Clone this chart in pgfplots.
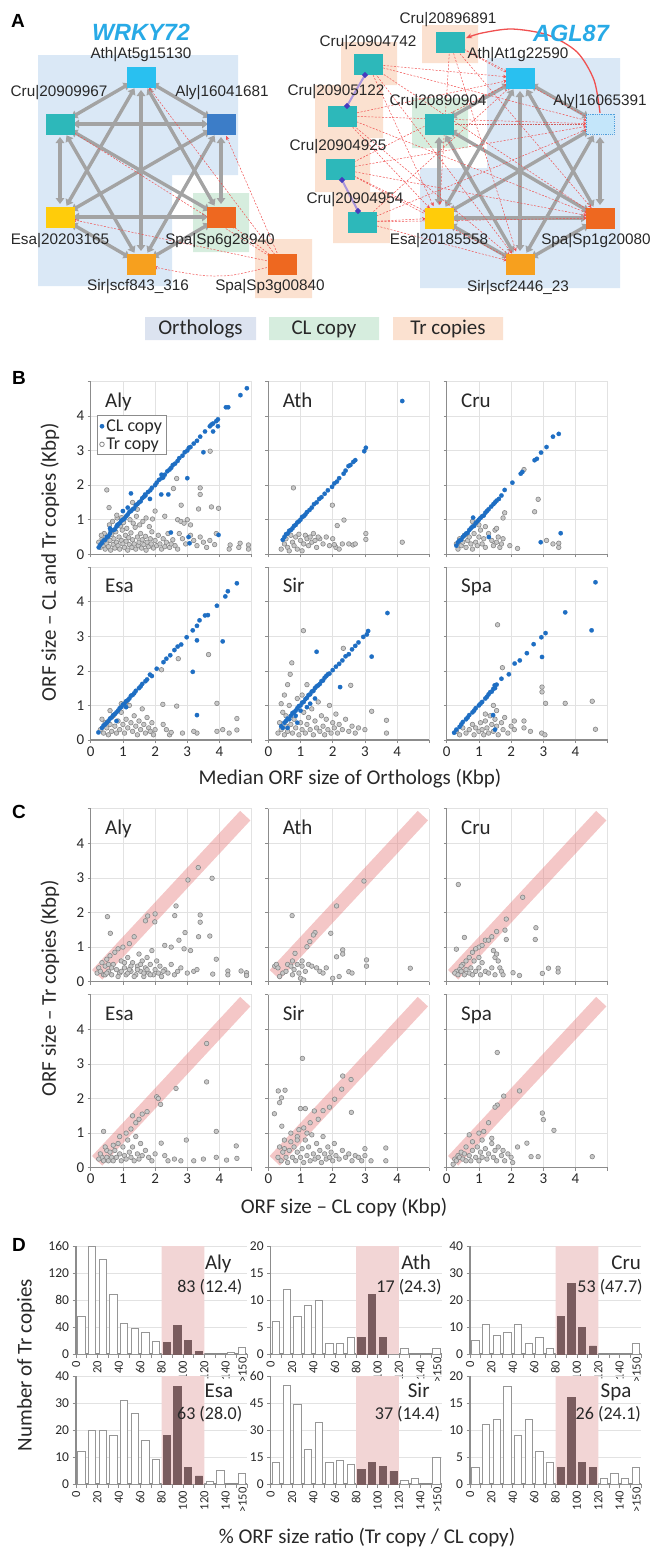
\documentclass[border=0pt]{standalone}
\usepackage{fontspec}
\setmainfont{Carlito}
\newfontfamily\arial{Liberation Sans}
\usepackage{pgfplots}
\pgfplotsset{compat=1.18}
\usetikzlibrary{arrows.meta}

\definecolor{bgblue}{RGB}{218,232,246}
\definecolor{bggreen}{RGB}{214,237,222}
\definecolor{bgpeach}{RGB}{251,225,208}
\definecolor{legblue}{RGB}{220,227,240}
\definecolor{nsky}{RGB}{41,192,240}
\definecolor{nteal}{RGB}{45,184,186}
\definecolor{nblue}{RGB}{60,125,200}
\definecolor{nyellow}{RGB}{255,204,10}
\definecolor{norange}{RGB}{247,160,30}
\definecolor{nred}{RGB}{238,104,32}
\definecolor{nlight}{RGB}{196,230,250}
\definecolor{nlightb}{RGB}{80,160,220}
\definecolor{edgegray}{RGB}{163,163,163}
\definecolor{redarr}{RGB}{240,80,80}
\definecolor{purp}{RGB}{170,150,220}
\definecolor{purpd}{RGB}{70,60,190}
\definecolor{titleblue}{RGB}{40,170,230}
\definecolor{ptblue}{RGB}{30,110,195}
\definecolor{ptgray}{RGB}{135,135,135}
\definecolor{ptfill}{RGB}{200,200,200}
\definecolor{bandpink}{RGB}{230,130,130}
\definecolor{histpink}{RGB}{242,213,213}
\definecolor{histdark}{RGB}{122,92,94}
\definecolor{barline}{RGB}{150,150,150}
\definecolor{axgray}{RGB}{140,140,140}
\definecolor{gridgray}{RGB}{226,226,226}
\definecolor{txt}{RGB}{40,40,40}

% network helpers (panel A axis is 1 unit = 1pt, y downwards)
\newcommand{\bgrect}[5]{\addplot[fill=#5, draw=none] coordinates {(#1,#2) (#3,#2) (#3,#4) (#1,#4) (#1,#2)};}
\newcommand{\gE}[4]{\addplot[gedge] coordinates {(#1,#2) (#3,#4)};}
\newcommand{\rE}[4]{\addplot[redge] coordinates {(#1,#2) (#3,#4)};}
\newcommand{\nd}[3]{\addplot[only marks, mark=square*, mark size=10pt, mark options={xscale=1.4, fill=#3, draw=#3}] coordinates {(#1,#2)};}
\newcommand{\lab}[3]{\node[font=\arial\fontsize{15.3}{15.3}\selectfont, text=txt] at (axis cs:#1,#2) {#3};}

\pgfplotsset{
  gedge/.style={no markers, draw=edgegray, line width=3.4pt,
    arrows={Triangle[length=6pt,width=8.5pt]-Triangle[length=6pt,width=8.5pt]},
    shorten <=13pt, shorten >=13pt},
  redge/.style={no markers, draw=redarr, line width=0.5pt, dash pattern=on 2pt off 1.5pt,
    arrows={-Stealth[length=4pt,width=3.5pt]}, shorten <=12pt, shorten >=13pt},
  scat/.style={scale only axis, width=161pt, height=173pt,
    xmin=0, xmax=5, ymin=0, ymax=5,
    axis lines=left, axis line style={-, draw=axgray, line width=1.3pt},
    xtick={0,...,5}, ytick={0,...,5},
    xticklabels={,,,,,}, yticklabels={,,,,,},
    grid=major, grid style={draw=gridgray, line width=0.5pt},
    tick align=outside, major tick length=3pt,
    tick style={draw=axgray, line width=0.6pt},
    ticklabel style={font=\fontsize{15}{15}\selectfont, text=txt},
    /pgf/number format/assume math mode=true},
  tr/.style={only marks, mark=*, mark size=2.3pt, color=ptgray,
    mark options={draw=ptgray, fill=ptfill, line width=0.6pt},
    legend image code/.code={\draw[mark repeat=2,mark phase=2,##1, mark options={fill=white}] plot coordinates {(0pt,0pt) (4pt,0pt) (8pt,0pt)};}},
  cl/.style={only marks, mark=*, mark size=2.2pt, color=ptblue,
    mark options={fill=ptblue, draw=ptblue, line width=0.2pt},
    legend image code/.code={\draw[mark repeat=2,mark phase=2,##1] plot coordinates {(0pt,0pt) (4pt,0pt) (8pt,0pt)};}},
  cband/.style={no markers, draw=bandpink, line width=14pt, opacity=0.45},
  hist/.style={scale only axis, width=171pt, height=108pt,
    xmin=0, xmax=160, ymin=0,
    axis lines=left, axis line style={-, draw=axgray, line width=1.3pt},
    xtick={0,10,...,160}, xticklabels={0,,20,,40,,60,,80,,100,,120,,140,,},
    extra x ticks={156}, extra x tick labels={>150},
    extra x tick style={major tick length=0pt},
    xticklabel style={rotate=90, anchor=east, font=\fontsize{12.5}{12.5}\selectfont, text=txt},
    yticklabel style={font=\fontsize{13.5}{13.5}\selectfont, text=txt},
    ymajorgrids, grid style={draw=gridgray, line width=0.5pt},
    tick align=outside, major tick length=3.5pt,
    tick style={draw=axgray, line width=0.6pt},
    /pgf/number format/assume math mode=true},
  band/.style={fill=histpink, draw=none},
  wbar/.style={ybar, bar width=7.3pt, bar shift=0pt, fill=white, draw=barline, line width=0.8pt},
  dbar/.style={ybar, bar width=7.3pt, bar shift=0pt, fill=histdark, draw=histdark, line width=0.8pt},
}
\tikzset{
  ttl/.style={anchor=base west, font=\fontsize{21}{21}\selectfont, text=txt},
  htl/.style={anchor=base east, font=\fontsize{21}{21}\selectfont, text=txt},
  hnum/.style={anchor=base east, font=\fontsize{18}{18}\selectfont, text=txt},
  axlab/.style={font=\fontsize{21}{21}\selectfont, text=txt},
  plet/.style={font=\arial\bfseries\fontsize{19}{19}\selectfont, text=black},
}

\begin{document}
\begin{tikzpicture}
\useasboundingbox (0pt,0pt) rectangle (651pt,-1547pt);

% ---------------- panel A : networks ----------------
\begin{axis}[at={(0pt,0pt)}, anchor=north west, scale only axis,
  width=651pt, height=345pt, xmin=0, xmax=651, ymin=0, ymax=345,
  y dir=reverse, hide axis, clip=false]
% backgrounds, WRKY72
\addplot[fill=bgblue, draw=none] coordinates {(38,55) (238,55) (238,175) (172,175) (172,286) (38,286) (38,55)};
\bgrect{193}{193}{249}{252}{bggreen}
\bgrect{255}{239}{312}{298}{bgpeach}
% backgrounds, AGL87
\addplot[fill=bgblue, draw=none] coordinates {(487,58) (620,58) (620,288) (420,288) (420,168) (487,168) (487,58)};
\bgrect{412}{98}{468}{148}{bggreen}
\bgrect{422}{25}{478}{63}{bgpeach}
\bgrect{341}{42}{397}{85}{bgpeach}
\bgrect{315}{85}{383}{138}{bgpeach}
\bgrect{315}{138}{370}{192}{bgpeach}
\bgrect{333}{192}{390}{243}{bgpeach}
% legend boxes
\bgrect{145}{317}{256}{340}{legblue}
\bgrect{269}{317}{379}{340}{bggreen}
\bgrect{393}{317}{503}{340}{bgpeach}
\node[font=\fontsize{21}{21}\selectfont, text=txt] at (axis cs:200.5,329) {Orthologs};
\node[font=\fontsize{21}{21}\selectfont, text=txt] at (axis cs:324,329) {CL copy};
\node[font=\fontsize{21}{21}\selectfont, text=txt] at (axis cs:448,329) {Tr copies};

% WRKY72 edges
\gE{141}{77}{60}{124}
\gE{141}{77}{221}{124}
\gE{141}{77}{60}{217}
\gE{141}{77}{221}{217}
\gE{141}{77}{141}{264}
\gE{60}{124}{221}{124}
\gE{60}{124}{60}{217}
\gE{60}{124}{221}{217}
\gE{60}{124}{141}{264}
\gE{221}{124}{60}{217}
\gE{221}{124}{221}{217}
\gE{221}{124}{141}{264}
\gE{60}{217}{221}{217}
\gE{60}{217}{141}{264}
\gE{221}{217}{141}{264}
\rE{282}{264}{141}{77}
\rE{282}{264}{60}{124}
\rE{282}{264}{221}{124}
\rE{282}{264}{60}{217}
\rE{282}{264}{221}{217}
\addplot[redge, smooth] coordinates {(282,264) (212,276) (141,264)};

% AGL87 edges
\gE{439}{124}{520}{78}
\gE{439}{124}{439}{218}
\gE{439}{124}{600}{218}
\gE{439}{124}{520}{264}
\gE{520}{78}{600}{124}
\gE{520}{78}{439}{218}
\gE{520}{78}{600}{218}
\gE{520}{78}{520}{264}
\gE{600}{124}{439}{218}
\gE{600}{124}{600}{218}
\gE{600}{124}{520}{264}
\gE{439}{218}{600}{218}
\gE{439}{218}{520}{264}
\gE{600}{218}{520}{264}
\addplot[no markers, draw=redarr!70!gray, line width=0.6pt, densely dotted, shorten <=14pt, shorten >=14pt] coordinates {(439,124) (600,124)};
% Tr copies -> orthologs
\rE{450}{42}{520}{78}
\rE{450}{42}{600}{124}
\rE{450}{42}{439}{218}
\rE{450}{42}{600}{218}
\rE{450}{42}{520}{264}
\rE{368}{64}{520}{78}
\rE{368}{64}{600}{124}
\rE{368}{64}{439}{218}
\rE{368}{64}{600}{218}
\rE{368}{64}{520}{264}
\rE{342}{116}{520}{78}
\rE{342}{116}{600}{124}
\rE{342}{116}{439}{218}
\rE{342}{116}{600}{218}
\rE{342}{116}{520}{264}
\rE{340}{169}{520}{78}
\rE{340}{169}{600}{124}
\rE{340}{169}{439}{218}
\rE{340}{169}{600}{218}
\rE{340}{169}{520}{264}
\rE{362}{222}{520}{78}
\rE{362}{222}{600}{124}
\rE{362}{222}{439}{218}
\rE{362}{222}{600}{218}
\rE{362}{222}{520}{264}
\addplot[no markers, smooth, draw=redarr, line width=1.3pt, arrows={-Stealth[length=6pt,width=5pt]}] coordinates {(600,113) (594,80) (577,52) (548,35) (512,29) (482,33) (466,38)};

% nodes
\nd{141}{77}{nsky}
\nd{60}{124}{nteal}
\nd{221}{124}{nblue}
\nd{60}{217}{nyellow}
\nd{221}{217}{nred}
\nd{141}{264}{norange}
\nd{282}{264}{nred}
\nd{450}{42}{nteal}
\nd{368}{64}{nteal}
\nd{342}{116}{nteal}
\nd{340}{169}{nteal}
\nd{362}{222}{nteal}
\nd{439}{124}{nteal}
\nd{520}{78}{nsky}
\addplot[only marks, mark=square*, mark size=10pt, mark options={xscale=1.4, fill=nlight, draw=nlightb, densely dotted, line width=0.8pt}] coordinates {(600,124)};
\nd{439}{218}{nyellow}
\nd{600}{218}{nred}
\nd{520}{264}{norange}
\addplot[draw=purp, line width=2pt, mark=*, mark size=1.7pt, mark options={fill=purpd, draw=purpd, solid}] coordinates {(365,75) (347,106)};
\addplot[draw=purp, line width=2pt, mark=*, mark size=1.7pt, mark options={fill=purpd, draw=purpd, solid}] coordinates {(342,180) (358,211)};

% labels
\node[font=\arial\bfseries\itshape\fontsize{23.5}{23.5}\selectfont, text=titleblue] at (axis cs:141,32) {WRKY72};
\node[font=\arial\bfseries\itshape\fontsize{23.5}{23.5}\selectfont, text=titleblue] at (axis cs:571,33) {AGL87};
\lab{141}{55}{Ath|At5g15130}
\lab{59}{93}{Cru|20909967}
\lab{222}{93}{Aly|16041681}
\lab{60}{241}{Esa|20203165}
\lab{220}{241}{Spa|Sp6g28940}
\lab{138}{287}{Sir|scf843\_316}
\lab{270}{287}{Spa|Sp3g00840}
\lab{448}{20}{Cru|20896891}
\lab{368}{43}{Cru|20904742}
\lab{336}{92}{Cru|20905122}
\lab{338}{147}{Cru|20904925}
\lab{355}{200}{Cru|20904954}
\lab{438}{102}{Cru|20890904}
\lab{518}{55}{Ath|At1g22590}
\lab{600}{102}{Aly|16065391}
\lab{439}{241}{Esa|20185558}
\lab{596}{241}{Spa|Sp1g20080}
\lab{518}{288}{Sir|scf2446\_23}
\end{axis}

% ---------------- panel B ----------------
\begin{axis}[scat, at={(90.7pt,-554.3pt)}, anchor=south west, yticklabels={0,1,2,3,4,},
  reverse legend, legend cell align=left,
  legend style={at={(0.041,0.804)}, anchor=north west, draw=axgray, line width=0.8pt,
    font=\fontsize{18}{18}\selectfont, text=txt, inner xsep=2pt, inner ysep=2pt, row sep=1pt}]
\addplot[tr] coordinates {(0.25,0.35)(0.3,0.2)(0.35,0.45)(0.4,0.25)(0.42,0.6)(0.45,0.15)(0.5,0.3)(0.52,0.5)(0.55,0.22)(0.6,0.4)(0.62,0.12)(0.65,0.58)(0.7,0.28)(0.72,0.45)(0.75,0.18)(0.78,0.65)(0.8,0.35)(0.85,0.25)(0.88,0.5)(0.9,0.15)(0.95,0.4)(0.98,0.7)(1.0,0.3)(1.05,0.2)(1.08,0.55)(1.1,0.38)(1.15,0.12)(1.18,0.48)(1.2,0.28)(1.25,0.62)(1.28,0.2)(1.3,0.42)(1.35,0.3)(1.38,0.78)(1.4,0.15)(1.45,0.5)(1.48,0.25)(1.5,0.35)(1.55,0.6)(1.58,0.18)(1.6,0.42)(1.65,0.28)(1.7,0.52)(1.72,0.12)(1.75,0.35)(1.8,0.22)(1.85,0.45)(1.88,0.3)(1.9,0.65)(1.95,0.18)(2.0,0.4)(2.05,0.25)(2.1,0.55)(2.15,0.3)(2.2,0.15)(2.25,0.45)(2.3,0.22)(2.35,0.35)(2.4,0.6)(2.45,0.2)(2.5,0.3)(2.55,0.42)(0.33,0.55)(0.58,0.85)(0.68,0.95)(0.82,1.05)(0.92,0.82)(1.02,0.92)(1.12,0.75)(1.22,1.0)(1.32,0.9)(1.42,1.1)(1.52,0.85)(1.62,0.95)(1.72,1.05)(1.82,0.8)(1.92,1.02)(0.5,1.86)(0.57,1.35)(0.81,1.13)(0.96,1.06)(1.3,1.5)(1.45,1.3)(2.0,1.25)(2.3,1.1)(2.67,2.19)(3.4,1.92)(3.4,1.73)(3.71,2.98)(3.75,1.37)(3.97,1.33)(3.35,1.31)(2.81,1.42)(2.57,1.9)(2.7,1.0)(2.8,0.95)(2.9,0.9)(3.0,1.0)(3.1,0.85)(2.75,0.6)(2.85,0.45)(2.95,0.3)(3.1,0.55)(3.2,0.4)(3.3,0.25)(3.4,0.5)(3.5,0.35)(3.6,0.2)(3.7,0.4)(3.85,0.28)(3.9,0.6)(4.33,0.27)(4.3,0.15)(4.64,0.32)(4.6,0.2)(4.9,0.27)(4.9,0.15)(2.62,0.25)(2.7,0.15)};
\addlegendentry{Tr copy}
\addplot[cl] coordinates {(0.25,0.2)(0.3,0.28)(0.35,0.33)(0.4,0.4)(0.45,0.42)(0.5,0.5)(0.55,0.52)(0.6,0.6)(0.62,0.68)(0.7,0.7)(0.75,0.72)(0.8,0.8)(0.85,0.86)(0.9,0.9)(0.95,0.97)(1.0,1.0)(1.05,1.03)(1.1,1.1)(1.15,1.15)(1.2,1.22)(1.25,1.25)(1.3,1.3)(1.35,1.33)(1.4,1.42)(1.45,1.45)(1.5,1.5)(1.55,1.53)(1.6,1.62)(1.65,1.66)(1.7,1.7)(1.78,1.8)(1.85,1.85)(1.9,1.92)(2.0,2.0)(2.05,2.07)(2.12,2.15)(2.2,2.2)(2.25,2.22)(2.3,2.3)(2.38,2.4)(2.45,2.45)(2.5,2.5)(2.55,2.58)(2.62,2.62)(2.7,2.7)(2.75,2.78)(2.85,2.85)(2.92,2.95)(3.0,3.0)(3.05,3.08)(3.1,3.1)(3.2,3.2)(3.3,3.28)(3.4,3.4)(3.55,3.55)(3.7,3.7)(3.75,3.75)(3.8,3.78)(3.9,3.85)(3.95,3.9)(4.2,4.25)(4.27,4.25)(4.65,4.6)(4.85,4.8)(3.5,2.95)(3.0,2.2)(3.95,3.7)(3.8,3.55)(3.97,0.56)(3.04,0.5)(3.07,0.32)(1.25,1.76)(1.84,1.6)(2.19,1.73)(2.41,1.73)(1.69,1.73)(2.49,0.63)(0.6,0.75)(0.83,0.85)(1.0,1.25)(1.15,1.35)(2.2,2.3)};
\addlegendentry{CL copy}
\node[ttl] at (rel axis cs:0.068,0.851) {Aly};
\end{axis}

\begin{axis}[scat, at={(268.3pt,-554.3pt)}, anchor=south west]
\addplot[tr] coordinates {(0.78,1.92)(1.99,1.42)(2.35,0.99)(2.14,0.83)(3.03,0.6)(3.03,0.43)(4.16,0.35)(2.63,0.27)(0.4,0.15)(0.5,0.3)(0.55,0.45)(0.6,0.2)(0.7,0.55)(0.75,0.35)(0.8,0.25)(0.85,0.5)(0.9,0.15)(0.95,0.58)(1.0,0.4)(1.05,0.1)(1.1,0.3)(1.15,0.55)(1.2,0.45)(1.25,0.25)(1.3,0.5)(1.35,0.35)(1.4,0.6)(1.45,0.4)(1.5,0.2)(1.6,0.45)(1.7,0.3)(1.8,0.5)(1.9,0.25)(2.0,0.45)(2.1,0.2)(2.2,0.15)(2.3,0.3)(2.5,0.3)(2.7,0.3)(0.65,0.1)(1.55,0.5)(2.05,0.28)};
\addplot[cl] coordinates {(0.45,0.42)(0.5,0.5)(0.55,0.58)(0.6,0.6)(0.65,0.68)(0.7,0.7)(0.75,0.75)(0.8,0.82)(0.85,0.85)(0.9,0.92)(0.95,0.95)(1.0,1.0)(1.05,1.08)(1.1,1.1)(1.15,1.15)(1.2,1.22)(1.28,1.28)(1.35,1.35)(1.42,1.45)(1.5,1.5)(1.58,1.6)(1.65,1.65)(1.75,1.75)(1.85,1.85)(1.98,1.95)(2.05,2.05)(2.13,2.1)(2.2,2.2)(2.34,2.33)(2.4,2.42)(2.49,2.55)(2.55,2.58)(2.64,2.67)(2.7,2.72)(2.98,2.98)(3.03,3.08)(4.16,4.43)};
\node[ttl] at (rel axis cs:0.068,0.851) {Ath};
\end{axis}

\begin{axis}[scat, at={(446.7pt,-554.3pt)}, anchor=south west]
\addplot[tr] coordinates {(0.3,0.3)(0.35,0.15)(0.4,0.45)(0.45,0.25)(0.5,0.35)(0.55,0.55)(0.6,0.2)(0.65,0.4)(0.7,0.5)(0.75,0.3)(0.8,0.15)(0.85,0.6)(0.9,0.35)(0.95,0.25)(1.0,0.5)(1.05,0.7)(1.1,0.3)(1.15,0.45)(1.2,0.2)(1.3,0.6)(1.4,0.4)(1.45,0.25)(1.5,0.7)(1.55,0.35)(1.6,0.5)(1.65,0.2)(1.7,0.3)(1.75,0.45)(1.8,1.2)(1.75,1.05)(1.2,0.8)(1.0,0.85)(0.8,0.95)(2.84,1.59)(2.73,1.23)(1.96,0.25)(2.2,0.17)(3.1,0.4)(3.3,0.3)(3.48,0.32)(3.48,0.2)(2.4,2.45)(1.55,0.75)};
\addplot[cl] coordinates {(0.3,0.25)(0.35,0.35)(0.4,0.4)(0.45,0.42)(0.5,0.5)(0.55,0.55)(0.6,0.6)(0.65,0.62)(0.7,0.7)(0.75,0.75)(0.8,0.8)(0.85,0.82)(0.9,0.9)(0.95,0.95)(1.0,1.0)(1.05,1.05)(1.1,1.1)(1.15,1.12)(1.2,1.2)(1.25,1.25)(1.3,1.3)(1.38,1.38)(1.45,1.45)(1.5,1.5)(1.55,1.55)(1.62,1.6)(1.7,1.7)(1.8,1.86)(2.04,2.07)(2.3,2.33)(2.35,2.38)(2.73,2.72)(2.8,2.76)(2.93,2.94)(3.1,3.1)(3.3,3.4)(3.48,3.48)(0.82,1.06)(1.31,0.5)(2.92,0.35)(3.54,0.61)};
\node[ttl] at (rel axis cs:0.068,0.851) {Cru};
\end{axis}

\begin{axis}[scat, at={(90.7pt,-740pt)}, anchor=south west, yticklabels={0,1,2,3,4,}, xticklabels={0,1,2,3,4,}]
\addplot[tr] coordinates {(0.3,0.3)(0.35,0.6)(0.4,0.2)(0.45,0.5)(0.5,0.35)(0.55,0.15)(0.6,0.45)(0.65,0.25)(0.7,0.7)(0.75,0.4)(0.8,0.2)(0.85,0.55)(0.9,0.3)(0.95,0.8)(1.0,0.45)(1.05,0.2)(1.1,0.6)(1.15,0.35)(1.2,1.0)(1.25,0.5)(1.3,0.25)(1.35,0.7)(1.4,0.4)(1.45,0.15)(1.5,0.55)(1.55,0.3)(1.6,0.9)(1.65,0.45)(1.7,0.2)(1.75,0.65)(1.8,0.35)(1.85,0.25)(1.9,0.5)(1.95,0.15)(2.0,0.3)(1.1,1.1)(0.95,1.05)(0.6,0.85)(2.72,2.35)(3.66,2.47)(2.2,2.03)(2.24,1.03)(2.67,0.98)(3.92,1.06)(4.54,0.62)(4.54,0.29)(4.3,0.2)(4.1,0.3)(3.92,0.25)(3.3,0.2)(3.2,0.25)(2.85,0.2)(2.45,0.15)(2.35,0.3)(2.25,0.45)(2.5,0.22)};
\addplot[cl] coordinates {(0.24,0.22)(0.35,0.35)(0.4,0.42)(0.45,0.45)(0.5,0.5)(0.55,0.55)(0.6,0.62)(0.65,0.65)(0.7,0.72)(0.75,0.75)(0.8,0.8)(0.85,0.85)(0.9,0.92)(0.95,0.95)(1.0,1.02)(1.05,1.05)(1.1,1.12)(1.15,1.15)(1.2,1.2)(1.25,1.28)(1.3,1.3)(1.35,1.35)(1.4,1.42)(1.5,1.5)(1.55,1.55)(1.6,1.62)(1.7,1.7)(1.75,1.75)(1.84,1.89)(1.9,1.85)(2.05,2.06)(2.26,2.25)(2.35,2.35)(2.47,2.45)(2.6,2.6)(2.7,2.7)(2.81,2.76)(2.98,2.97)(3.17,3.17)(3.3,3.3)(3.38,3.46)(3.55,3.6)(3.64,3.61)(3.92,3.88)(4.18,4.15)(4.26,4.3)(4.54,4.53)(3.3,2.88)(4.1,2.85)(3.17,1.97)(3.3,0.72)(0.8,0.55)(1.1,0.95)};
\node[ttl] at (rel axis cs:0.068,0.851) {Esa};
\end{axis}

\begin{axis}[scat, at={(268.3pt,-740pt)}, anchor=south west, xticklabels={0,1,2,3,4,}]
\addplot[tr] coordinates {(0.3,0.2)(0.35,0.5)(0.4,0.3)(0.45,0.8)(0.5,0.15)(0.55,0.4)(0.6,0.25)(0.65,1.0)(0.7,0.45)(0.75,0.2)(0.8,0.6)(0.85,0.35)(0.9,1.2)(0.95,0.15)(1.0,0.5)(1.05,0.3)(1.1,0.8)(1.15,0.2)(1.2,0.45)(1.25,0.65)(1.3,0.3)(1.35,0.9)(1.4,0.15)(1.45,0.55)(1.5,0.35)(1.55,1.1)(1.6,0.25)(1.65,0.7)(1.7,0.4)(1.75,0.15)(1.8,0.6)(1.85,0.3)(1.9,1.0)(1.95,0.2)(2.0,0.5)(2.05,0.35)(2.1,0.75)(2.15,0.2)(2.2,0.45)(2.3,0.3)(2.4,0.6)(2.5,0.25)(2.6,0.4)(2.7,0.2)(2.8,0.35)(3.0,0.3)(1.09,3.16)(0.73,2.23)(0.68,1.9)(2.33,2.65)(2.56,1.58)(3.21,0.83)(3.67,0.57)(3.67,0.2)(0.5,1.3)(0.6,1.6)(1.2,1.6)(0.4,1.05)(0.55,0.7)(1.05,1.3)};
\addplot[cl] coordinates {(0.4,0.4)(0.45,0.35)(0.5,0.5)(0.55,0.55)(0.6,0.62)(0.65,0.6)(0.7,0.7)(0.75,0.78)(0.8,0.8)(0.85,0.85)(0.9,0.92)(0.95,0.98)(1.0,1.0)(1.05,1.08)(1.1,1.1)(1.15,1.18)(1.2,1.22)(1.25,1.3)(1.3,1.32)(1.35,1.4)(1.4,1.42)(1.45,1.5)(1.5,1.55)(1.55,1.58)(1.6,1.62)(1.65,1.7)(1.7,1.72)(1.75,1.8)(1.8,1.85)(1.85,1.9)(1.9,1.92)(2.0,2.02)(2.1,2.12)(2.2,2.2)(2.3,2.3)(2.4,2.42)(2.5,2.48)(2.6,2.62)(2.7,2.72)(2.8,2.82)(2.95,2.98)(3.06,3.05)(3.1,3.15)(3.7,3.67)(3.21,2.41)(2.23,1.53)(1.5,2.55)(1.3,1.05)(1.0,0.85)(1.45,1.2)(0.85,0.7)(1.2,0.95)(0.6,0.35)(0.9,0.5)};
\node[ttl] at (rel axis cs:0.068,0.851) {Sir};
\end{axis}

\begin{axis}[scat, at={(446.7pt,-740pt)}, anchor=south west, xticklabels={0,1,2,3,4,}]
\addplot[tr] coordinates {(1.58,3.33)(1.73,2.09)(2.96,1.53)(2.96,1.39)(3.07,1.06)(3.68,1.06)(4.52,1.12)(4.62,0.31)(0.3,0.25)(0.4,0.15)(0.5,0.35)(0.6,0.2)(0.7,0.3)(0.8,0.45)(0.85,0.15)(0.9,0.35)(1.0,0.25)(1.05,0.5)(1.1,0.3)(1.15,0.15)(1.2,0.55)(1.25,0.35)(1.3,0.2)(1.35,0.7)(1.4,0.45)(1.45,0.25)(1.5,0.6)(1.55,0.4)(1.6,0.15)(1.7,0.5)(1.75,0.3)(1.8,0.65)(1.9,0.2)(2.0,0.4)(2.1,0.3)(2.1,0.55)(2.4,0.55)(2.4,0.35)(2.6,0.25)(2.95,0.2)(3.05,0.15)(1.2,0.75)(1.45,1.0)(1.55,0.85)};
\addplot[cl] coordinates {(0.23,0.21)(0.3,0.3)(0.4,0.38)(0.45,0.45)(0.5,0.52)(0.6,0.6)(0.65,0.65)(0.7,0.72)(0.8,0.8)(0.85,0.85)(0.9,0.92)(1.0,1.0)(1.05,1.05)(1.1,1.1)(1.2,1.2)(1.25,1.25)(1.3,1.32)(1.35,1.38)(1.4,1.4)(1.45,1.48)(1.49,1.58)(1.5,1.5)(1.55,1.6)(1.7,1.77)(1.93,1.9)(2.11,2.21)(2.27,2.3)(2.49,2.51)(2.7,2.77)(2.94,2.97)(3.07,3.09)(3.68,3.69)(4.62,4.56)(2.96,2.4)(4.5,3.17)(1.44,0.72)(1.5,0.3)};
\node[ttl] at (rel axis cs:0.068,0.851) {Spa};
\end{axis}

% ---------------- panel C ----------------
\begin{axis}[scat, at={(90.7pt,-981.7pt)}, anchor=south west, yticklabels={0,1,2,3,4,}]
\addplot[tr] coordinates {(0.2,0.25)(0.25,0.4)(0.3,0.3)(0.35,0.55)(0.4,0.2)(0.45,0.45)(0.5,0.65)(0.55,0.3)(0.6,0.75)(0.65,0.2)(0.7,0.5)(0.75,0.85)(0.8,0.35)(0.85,0.95)(0.9,0.25)(0.95,0.6)(1.0,1.0)(1.05,0.4)(1.1,0.2)(1.15,0.7)(1.2,1.1)(1.25,0.3)(1.3,0.55)(1.35,1.3)(1.4,0.2)(1.45,0.45)(1.5,0.8)(1.55,0.3)(1.6,0.6)(1.65,0.15)(1.7,0.4)(1.75,0.7)(1.8,0.25)(1.85,0.5)(1.9,0.9)(1.95,0.2)(2.0,0.35)(2.05,0.6)(2.1,0.25)(2.15,0.45)(2.2,0.15)(2.3,0.35)(2.4,0.25)(2.5,0.5)(2.6,0.2)(2.7,0.3)(2.8,0.4)(3.0,0.25)(3.2,0.3)(0.45,0.2)(0.55,0.5)(0.65,0.4)(0.85,0.15)(0.95,0.3)(1.05,0.55)(1.15,0.25)(1.25,0.45)(1.35,0.15)(1.45,0.35)(1.55,0.5)(1.65,0.25)(1.75,0.35)(1.85,0.2)(2.25,0.3)(1.2,0.35)(0.5,0.25)(3.34,3.3)(3.02,2.94)(3.77,2.99)(0.52,1.88)(0.61,1.4)(1.77,1.9)(1.7,1.76)(2.0,1.96)(1.99,1.73)(2.65,2.19)(2.61,1.91)(3.4,1.93)(3.4,1.72)(2.74,1.2)(2.93,1.42)(3.35,1.3)(3.7,1.32)(3.9,0.65)(3.79,0.22)(4.26,0.31)(4.26,0.2)(4.67,0.31)(4.84,0.26)(4.84,0.18)(3.1,0.9)(2.9,0.95)(2.5,1.0)(2.3,1.05)(3.3,0.35)};
\addplot[cband] coordinates {(0.2,0.2) (4.8,4.8)};
\node[ttl] at (rel axis cs:0.068,0.851) {Aly};
\end{axis}

\begin{axis}[scat, at={(268.3pt,-981.7pt)}, anchor=south west]
\addplot[tr] coordinates {(2.97,2.91)(2.12,2.19)(0.74,1.91)(1.45,1.42)(1.4,1.35)(1.29,1.16)(1.2,1.01)(0.83,0.82)(1.94,1.4)(2.31,0.92)(2.31,0.8)(2.12,0.72)(3.05,0.63)(3.05,0.45)(4.41,0.39)(2.5,0.29)(2.6,0.25)(0.2,0.45)(0.25,0.5)(0.3,0.4)(0.35,0.15)(0.45,0.25)(0.55,0.3)(0.6,0.5)(0.7,0.45)(0.75,0.2)(0.8,0.35)(0.9,0.5)(0.95,0.25)(1.0,0.1)(1.05,0.45)(1.1,0.05)(1.15,0.3)(1.25,0.5)(1.35,0.45)(1.5,0.4)(1.6,0.3)(1.7,0.25)(1.8,0.4)(2.0,0.1)(2.2,0.15)(1.05,0.6)(0.75,0.6)};
\addplot[cband] coordinates {(0.2,0.2) (4.8,4.8)};
\node[ttl] at (rel axis cs:0.068,0.851) {Ath};
\end{axis}

\begin{axis}[scat, at={(446.7pt,-981.7pt)}, anchor=south west]
\addplot[tr] coordinates {(0.36,2.81)(2.36,2.44)(1.85,1.81)(2.77,1.56)(2.75,1.22)(1.81,1.49)(1.85,1.22)(0.55,1.28)(0.3,0.94)(3.16,0.39)(3.46,0.39)(3.46,0.28)(2.06,0.26)(2.26,0.18)(2.97,0.24)(1.55,1.45)(1.4,1.3)(1.2,1.2)(1.0,1.0)(0.9,0.95)(0.8,0.85)(0.7,0.7)(0.6,0.6)(0.5,0.5)(0.45,0.45)(0.4,0.35)(0.3,0.3)(0.25,0.25)(1.1,1.05)(1.3,1.2)(0.35,0.2)(0.45,0.3)(0.55,0.2)(0.6,0.35)(0.7,0.25)(0.75,0.4)(0.8,0.2)(0.9,0.3)(1.0,0.4)(1.05,0.2)(1.1,0.55)(1.2,0.3)(1.3,0.25)(1.4,0.4)(1.5,0.2)(1.6,0.6)(1.65,0.4)(1.7,0.3)(1.75,0.2)(1.5,0.7)(1.55,0.8)(1.45,0.9)(1.0,0.7)(0.85,0.6)};
\addplot[cband] coordinates {(0.2,0.2) (4.8,4.8)};
\node[ttl] at (rel axis cs:0.068,0.851) {Cru};
\end{axis}

\begin{axis}[scat, at={(90.7pt,-1167.7pt)}, anchor=south west, yticklabels={0,1,2,3,4,}, xticklabels={0,1,2,3,4,}]
\addplot[tr] coordinates {(3.6,3.59)(3.6,2.48)(2.65,2.29)(2.05,2.05)(2.1,2.0)(2.17,1.83)(1.75,1.62)(1.6,1.55)(1.25,1.12)(3.9,1.05)(2.97,0.8)(4.52,0.63)(2.19,0.71)(3.9,0.3)(4.22,0.22)(4.54,0.27)(2.6,0.25)(2.8,0.2)(3.2,0.2)(3.5,0.25)(1.4,1.3)(1.3,1.5)(1.5,1.4)(1.1,1.0)(0.9,0.9)(0.7,0.65)(0.5,0.5)(0.35,0.3)(0.25,0.25)(0.3,0.4)(0.4,0.2)(0.45,0.6)(0.5,0.3)(0.55,0.2)(0.6,0.45)(0.65,0.3)(0.7,0.2)(0.75,0.5)(0.8,0.3)(0.85,0.7)(0.9,0.4)(0.95,0.2)(1.0,0.6)(1.05,0.35)(1.1,0.25)(1.15,0.8)(1.2,0.45)(1.25,0.3)(1.3,0.6)(1.35,0.2)(1.4,0.9)(1.45,0.4)(1.5,0.25)(1.55,0.7)(1.6,0.35)(1.7,0.5)(1.8,0.3)(1.9,0.2)(2.0,0.4)(2.3,0.35)(2.4,0.2)(0.4,1.05)};
\addplot[cband] coordinates {(0.2,0.2) (4.8,4.8)};
\node[ttl] at (rel axis cs:0.068,0.851) {Esa};
\end{axis}

\begin{axis}[scat, at={(268.3pt,-1167.7pt)}, anchor=south west, xticklabels={0,1,2,3,4,}]
\addplot[tr] coordinates {(1.06,3.16)(0.31,2.22)(0.52,2.24)(0.41,2.02)(0.35,1.88)(2.31,2.65)(2.57,2.55)(2.28,2.27)(2.06,1.98)(1.0,1.71)(1.15,1.71)(1.43,1.64)(1.7,1.65)(1.9,1.75)(2.58,1.6)(3.0,0.55)(3.65,0.57)(3.65,0.2)(3.19,0.2)(0.19,1.56)(0.42,1.2)(1.55,1.4)(1.3,1.3)(1.1,1.15)(0.9,0.9)(0.7,0.75)(0.5,0.55)(0.3,0.3)(0.35,0.6)(0.4,0.2)(0.45,0.45)(0.5,0.8)(0.55,0.3)(0.6,0.15)(0.65,0.5)(0.7,1.0)(0.75,0.3)(0.8,0.6)(0.85,0.2)(0.9,0.45)(0.95,1.1)(1.0,0.3)(1.05,0.55)(1.1,0.15)(1.15,0.8)(1.2,0.35)(1.25,0.6)(1.3,0.2)(1.35,0.95)(1.4,0.4)(1.45,0.25)(1.5,0.7)(1.55,0.3)(1.6,0.5)(1.65,0.15)(1.7,0.9)(1.75,0.4)(1.8,0.25)(1.85,0.6)(1.9,0.3)(1.95,0.45)(2.0,0.2)(2.05,0.7)(2.1,0.35)(2.2,0.25)(2.3,0.5)(2.4,0.3)(2.5,0.4)(2.6,0.2)(2.7,0.35)(2.8,0.3)(2.9,0.2)(3.0,0.35)(1.2,1.0)(0.9,0.8)};
\addplot[cband] coordinates {(0.2,0.2) (4.8,4.8)};
\node[ttl] at (rel axis cs:0.068,0.851) {Sir};
\end{axis}

\begin{axis}[scat, at={(446.7pt,-1167.7pt)}, anchor=south west, xticklabels={0,1,2,3,4,}]
\addplot[tr] coordinates {(1.57,3.33)(2.26,2.22)(1.77,2.07)(1.57,1.81)(1.5,1.75)(2.97,1.58)(3.0,1.39)(3.33,1.08)(4.52,0.32)(2.84,0.32)(2.62,0.32)(2.49,0.71)(2.2,0.6)(1.3,1.3)(1.15,1.05)(1.0,1.0)(0.8,0.75)(0.7,0.95)(0.6,0.6)(0.45,0.45)(0.35,0.35)(0.25,0.25)(0.2,0.1)(0.3,0.2)(0.4,0.3)(0.5,0.25)(0.55,0.4)(0.6,0.2)(0.7,0.35)(0.75,0.2)(0.8,0.5)(0.9,0.3)(0.95,0.6)(1.0,0.2)(1.05,0.45)(1.1,0.3)(1.2,0.55)(1.25,0.25)(1.3,0.4)(1.4,0.7)(1.45,0.3)(1.5,0.5)(1.55,0.2)(1.6,0.6)(1.7,0.35)(1.75,0.5)(1.8,0.2)(1.9,0.4)(2.0,0.3)(2.05,0.15)(1.4,0.85)(1.1,0.8)};
\addplot[cband] coordinates {(0.2,0.2) (4.8,4.8)};
\node[ttl] at (rel axis cs:0.068,0.851) {Spa};
\end{axis}

% ---------------- panel D ----------------
\begin{axis}[hist, at={(76pt,-1354pt)}, anchor=south west, ymax=160, ytick={0,40,...,160}]
\addplot[band] coordinates {(80,0) (120,0) (120,160) (80,160) (80,0)};
\addplot[wbar] coordinates {(5,55)(15,160)(25,140)(35,88)(45,45)(55,38)(65,32)(75,18)(145,2)(155,10)};
\addplot[dbar] coordinates {(85,17)(95,42)(105,20)(115,4)};
\node[htl] at (rel axis cs:0.93,0.78) {Aly};
\node[hnum] at (rel axis cs:0.994,0.565) {83 (12.4)};
\end{axis}

\begin{axis}[hist, at={(270.7pt,-1354pt)}, anchor=south west, ymax=20, ytick={0,5,...,20}]
\addplot[band] coordinates {(80,0) (120,0) (120,20) (80,20) (80,0)};
\addplot[wbar] coordinates {(5,6)(15,12)(25,7)(35,9)(45,10)(55,2)(65,2)(75,3)(125,1)(155,1)};
\addplot[dbar] coordinates {(85,3)(95,11)(105,3)};
\node[htl] at (rel axis cs:0.958,0.78) {Ath};
\node[hnum] at (rel axis cs:1.02,0.565) {17 (24.3)};
\end{axis}

\begin{axis}[hist, at={(470pt,-1354pt)}, anchor=south west, ymax=40, ytick={0,10,...,40}]
\addplot[band] coordinates {(80,0) (120,0) (120,40) (80,40) (80,0)};
\addplot[wbar] coordinates {(5,5)(15,11)(25,7)(35,8)(45,11)(55,4)(65,6)(75,2)(155,4)};
\addplot[dbar] coordinates {(85,14)(95,26)(105,10)(115,3)};
\node[htl] at (rel axis cs:1.02,0.78) {Cru};
\node[hnum] at (rel axis cs:1.03,0.565) {53 (47.7)};
\end{axis}

\begin{axis}[hist, at={(76pt,-1484pt)}, anchor=south west, ymax=40, ytick={0,10,...,40}]
\addplot[band] coordinates {(80,0) (120,0) (120,40) (80,40) (80,0)};
\addplot[wbar] coordinates {(5,12)(15,20)(25,20)(35,18)(45,31)(55,26)(65,16)(75,9)(125,1)(135,5)(155,4)};
\addplot[dbar] coordinates {(85,18)(95,36)(105,6)(115,3)};
\node[htl] at (rel axis cs:0.94,0.8) {Esa};
\node[hnum] at (rel axis cs:0.993,0.6) {63 (28.0)};
\end{axis}

\begin{axis}[hist, at={(270.7pt,-1484pt)}, anchor=south west, ymax=60, ytick={0,15,...,60}]
\addplot[band] coordinates {(80,0) (120,0) (120,60) (80,60) (80,0)};
\addplot[wbar] coordinates {(5,12)(15,55)(25,44)(35,19)(45,34)(55,12)(65,13)(75,11)(125,2)(135,3)(155,15)};
\addplot[dbar] coordinates {(85,8)(95,12)(105,10)(115,7)};
\node[htl] at (rel axis cs:0.95,0.8) {Sir};
\node[hnum] at (rel axis cs:1.011,0.6) {37 (14.4)};
\end{axis}

\begin{axis}[hist, at={(470pt,-1484pt)}, anchor=south west, ymax=20, ytick={0,5,...,20}]
\addplot[band] coordinates {(80,0) (120,0) (120,20) (80,20) (80,0)};
\addplot[wbar] coordinates {(5,3)(15,11)(25,12)(35,18)(45,9)(55,12)(65,6)(75,4)(125,1)(135,2)(145,1)(155,3)};
\addplot[dbar] coordinates {(85,3)(95,16)(105,4)(115,3)};
\node[htl] at (rel axis cs:0.965,0.8) {Spa};
\node[hnum] at (rel axis cs:1.02,0.6) {26 (24.1)};
\end{axis}

% ---------------- panel letters and shared labels ----------------
\node[plet] at (18pt,-21pt) {A};
\node[plet] at (19pt,-378pt) {B};
\node[plet] at (19pt,-812pt) {C};
\node[plet] at (19pt,-1245pt) {D};
\node[axlab, rotate=90] at (50pt,-562pt) {ORF size – CL and Tr copies (Kbp)};
\node[axlab] at (350pt,-779pt) {Median ORF size of Orthologs (Kbp)};
\node[axlab, rotate=90] at (50pt,-988pt) {ORF size – Tr copies (Kbp)};
\node[axlab] at (344pt,-1207pt) {ORF size – CL copy (Kbp)};
\node[axlab, rotate=90] at (26pt,-1365pt) {Number of Tr copies};
\node[axlab] at (367pt,-1537pt) {\% ORF size ratio (Tr copy / CL copy)};
\end{tikzpicture}
\end{document}
